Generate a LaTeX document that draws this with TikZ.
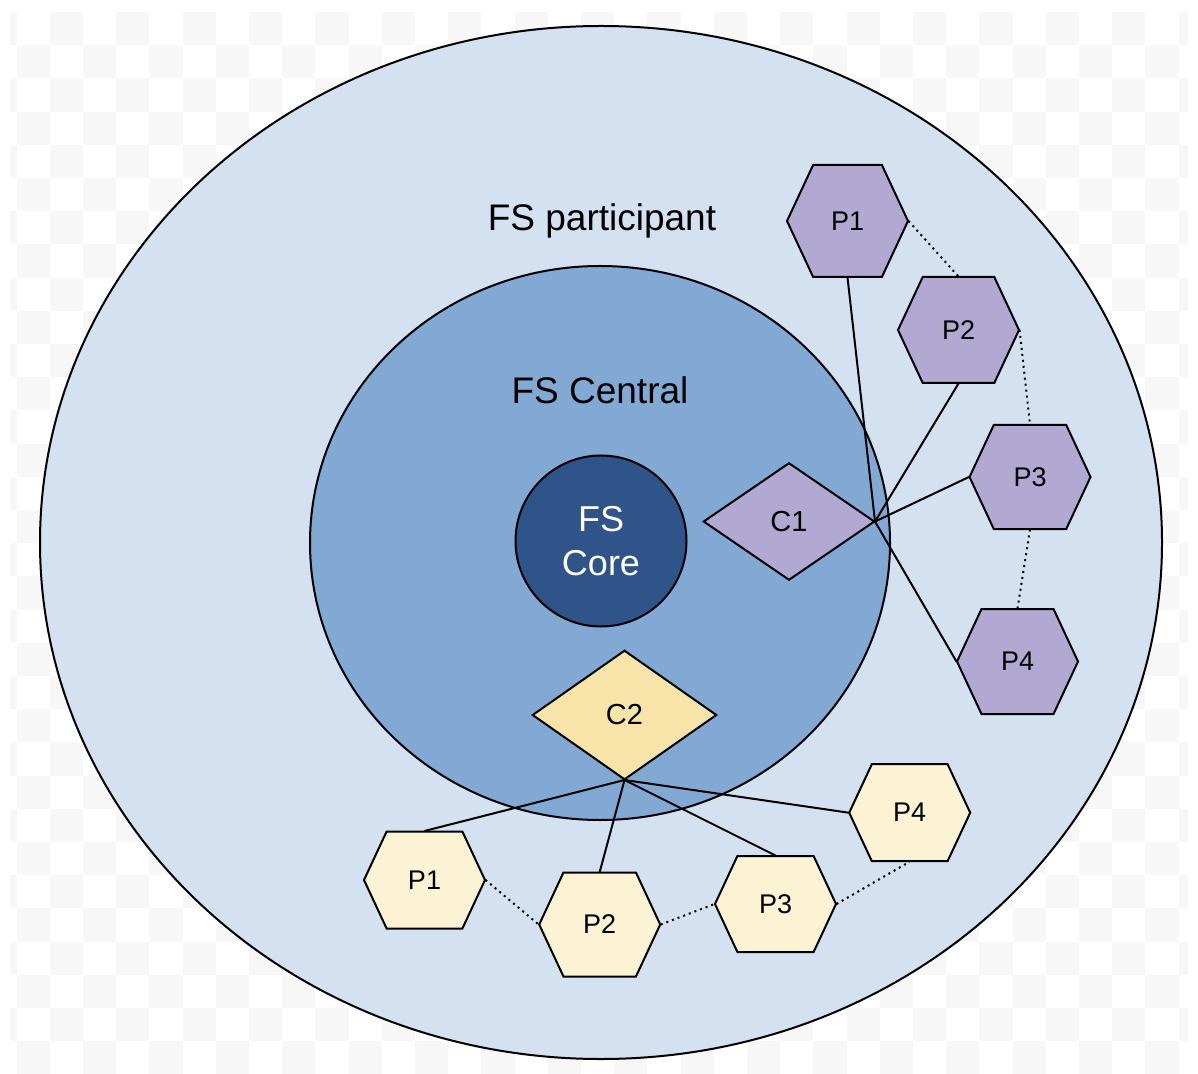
\documentclass[tikz,border=0pt]{standalone}
\usepackage{fontspec}
\setmainfont{Liberation Sans}
\usepackage{xcolor}
\usepackage{tikz}
\usetikzlibrary{shapes,arrows}
\definecolor{participantBlue}{HTML}{D4E1F0}
\definecolor{centralBlue}{HTML}{82A8D4}
\definecolor{coreBlue}{HTML}{2F5489}
\definecolor{clientPurple}{HTML}{B1A9D1}
\definecolor{clientYellow}{HTML}{F8E4A9}
\definecolor{peerYellow}{HTML}{FCF2D4}
\definecolor{checker}{HTML}{F7F7F7}
\tikzstyle{ring} = [ellipse, draw, line width=1pt, inner sep=0pt]
\tikzstyle{hexagon} = [signal, signal to=east and west, signal pointer angle=130, draw,
    line width=1pt, minimum width=121pt, inner sep=0pt, font=\fontsize{27}{32}\selectfont]
\tikzstyle{decision} = [diamond, draw, line width=1pt, inner sep=0pt,
    font=\fontsize{29}{34}\selectfont]
\tikzstyle{title} = [font=\fontsize{37}{44}\selectfont]
\tikzstyle{line} = [draw, line width=1pt]
\tikzstyle{dotline} = [draw, line width=1pt, dotted]

\begin{document}
\begin{tikzpicture}[x=1pt, y=-1pt, scale=0.5, every node/.style={scale=0.5}]
      \useasboundingbox (0,0) rectangle (1198,1074);
      % checker background
      \begin{scope}
        \clip (10,12) rectangle (1188,1073);
        \foreach \i in {-1,...,35}{
          \foreach \j in {0,...,31}{
            \pgfmathtruncatemacro\odd{mod(\i+\j+2,2)}
            \ifnum\odd=1 \fill [checker] (16.5+33.2*\i,12+33.2*\j) rectangle ++(33.2,33.2); \fi
          }
        }
      \end{scope}

      % Place nodes
      \node [ring, fill=participantBlue, minimum width=1122pt, minimum height=1033pt] (fsParticipant) at (601,542.5) {};
      \node [ring, fill=centralBlue, minimum width=580pt, minimum height=554pt] (fsCentral) at (600,543) {};
      \node [circle, draw, line width=1pt, fill=coreBlue, minimum size=171pt, inner sep=0pt,
          text=white, align=center, font=\fontsize{36}{44}\selectfont] (fsCore) at (601,541) {FS\\Core};
      \node [title] (participantLabel) at (602,221) {FS participant};
      \node [title] (centralLabel) at (600,390) {FS Central};

      \node [decision, fill=clientPurple, minimum width=171pt, minimum height=117pt] (c1) at (789,521.5) {C1};
      \node [decision, fill=clientYellow, minimum width=184pt, minimum height=129pt] (c2) at (624.5,715) {C2};

      \node [hexagon, fill=clientPurple, minimum height=112pt] (p1) at (847.5,221) {P1};
      \node [hexagon, fill=clientPurple, minimum height=106pt] (p2) at (958.5,330) {P2};
      \node [hexagon, fill=clientPurple, minimum height=104pt] (p3) at (1030,477) {P3};
      \node [hexagon, fill=clientPurple, minimum height=105pt] (p4) at (1017.5,661.5) {P4};

      \node [hexagon, fill=peerYellow, minimum height=97pt] (q1) at (424.5,880) {P1};
      \node [hexagon, fill=peerYellow, minimum height=104pt] (q2) at (599.7,924.5) {P2};
      \node [hexagon, fill=peerYellow, minimum height=96pt] (q3) at (775.5,904) {P3};
      \node [hexagon, fill=peerYellow, minimum height=97pt] (q4) at (909.7,812.7) {P4};

      \path [line] (c1.east) -- (p1.south);
      \path [line] (c1.east) -- (p2.south);
      \path [line] (c1.east) -- (p3.west);
      \path [line] (c1.east) -- (p4.west);
      %
      \path [line] (c2.south) -- (q1.north);
      \path [line] (c2.south) -- (q2.north);
      \path [line] (c2.south) -- (q3.north);
      \path [line] (c2.south) -- (q4.west);

      \path [dotline] (p1.east) -- (p2.north);
      \path [dotline] (p2.east) -- (p3.north);
      \path [dotline] (p3.south) -- (p4.north);
      \path [dotline] (q1.east) -- (q2.west);
      \path [dotline] (q2.east) -- (q3.west);
      \path [dotline] (q3.east) -- (q4.south);

  \end{tikzpicture}
\end{document}
